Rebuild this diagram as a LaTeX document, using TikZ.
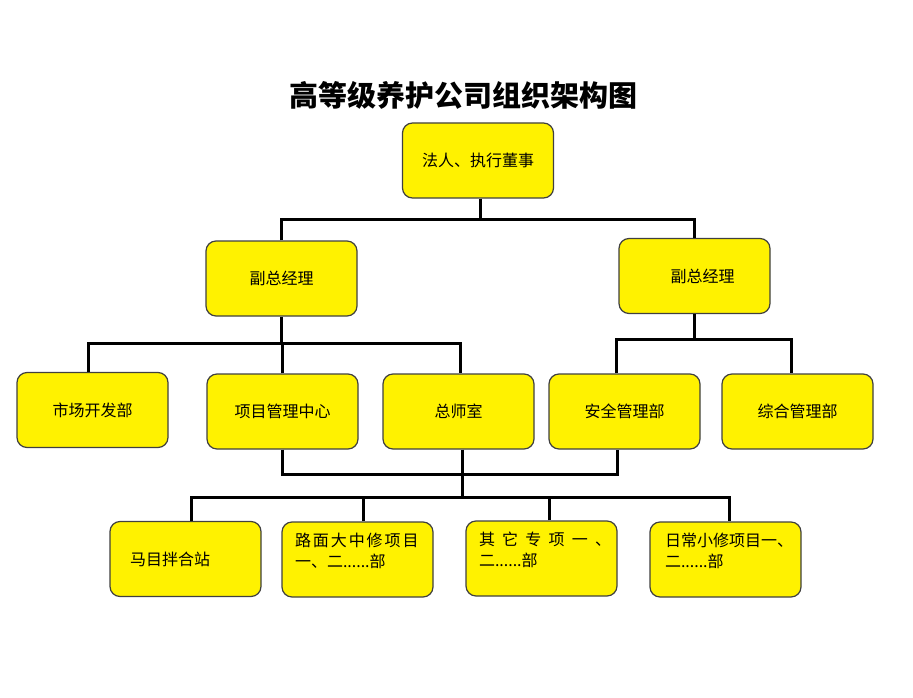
\documentclass[tikz,border=0pt]{standalone}
\usepackage{fontspec}
\newfontfamily\cjk{Noto Sans CJK SC}
\begin{document}
\begin{tikzpicture}[
    x=1pt, y=-1pt,
    box/.style={rectangle, draw=black!75, line width=1.2pt, fill=yellow, minimum width=151pt, minimum height=75pt, text centered, font=\cjk\fontsize{16}{21}\selectfont, rounded corners=10pt},
    leaf/.style={box, align=left, inner xsep=#1, text width=151pt-2*#1},
    twoline/.style={inner ysep=3pt, text height=14pt, text depth=40pt},
    link/.style={line width=3pt, black}
]
\useasboundingbox (0,0) rectangle (913,698);

% Title
\node[font=\cjk\bfseries\fontsize{29}{32}\selectfont] (title) at (463,95) {高等级养护公司组织架构图};

% Top levels
\node[box] (boss) at (478,160.5) {法人、执行董事};
\node[box] (vpL) at (281.5,278.5) {副总经理};
\node[box] (vpR) at (694.5,276) {\hspace*{16pt}副总经理};

% Departments
\node[box] (market) at (92.5,410) {市场开发部};
\node[box] (projects) at (282.5,411.5) {项目管理中心};
\node[box] (chief) at (458.5,411.5) {总师室};
\node[box] (safety) at (624.5,411.5) {安全管理部};
\node[box] (general) at (797.5,411.5) {综合管理部};

% Project units
\node[leaf=20pt] (mixing) at (185.5,559) {马目拌合站};
\node[leaf=13pt, twoline] (road) at (357.5,559.5) {{\addfontfeature{LetterSpace=12}路面大中修项目}\\一、二......部};
\node[leaf=13pt, twoline] (special) at (541.5,558.5) {{\addfontfeature{LetterSpace=45}其它专项一、}\\二......部};
\node[leaf=15pt, twoline] (daily) at (725.5,559.5) {日常小修项目一、\\二......部};

% Bus heights
\coordinate (busTop) at (0,219);
\coordinate (busL) at (0,343);
\coordinate (busR) at (0,339);
\coordinate (busMid) at (0,474);
\coordinate (busLow) at (0,497);

% Connectors
\draw[link] ([xshift=2pt]boss.south) -- ([xshift=2pt]boss.south |- busTop);
\draw[link] (vpL.north) -- (vpL.north |- busTop) -- (vpR.north |- busTop) -- (vpR.north);

\draw[link] (vpL.south) -- (vpL.south |- busL);
\draw[link] ([xshift=-4pt]market.north) -- ([xshift=-4pt]market.north |- busL) -- ([xshift=2pt]chief.north |- busL) -- ([xshift=2pt]chief.north);
\draw[link] (projects.north) -- (projects.north |- busL);

\draw[link] (vpR.south) -- (vpR.south |- busR);
\draw[link] ([xshift=-8pt]safety.north) -- ([xshift=-8pt]safety.north |- busR) -- ([xshift=-6pt]general.north |- busR) -- ([xshift=-6pt]general.north);

\draw[link] (projects.south) -- (projects.south |- busMid) -- ([xshift=-7pt]safety.south |- busMid) -- ([xshift=-7pt]safety.south);
\draw[link] ([xshift=4pt]chief.south) -- ([xshift=4pt]chief.south |- busLow);

\draw[link] ([xshift=6pt]mixing.north) -- ([xshift=6pt]mixing.north |- busLow) -- ([xshift=4pt]daily.north |- busLow) -- ([xshift=4pt]daily.north);
\draw[link] ([xshift=6pt]road.north) -- ([xshift=6pt]road.north |- busLow);
\draw[link] ([xshift=8pt]special.north) -- ([xshift=8pt]special.north |- busLow);

\end{tikzpicture}
\end{document}
